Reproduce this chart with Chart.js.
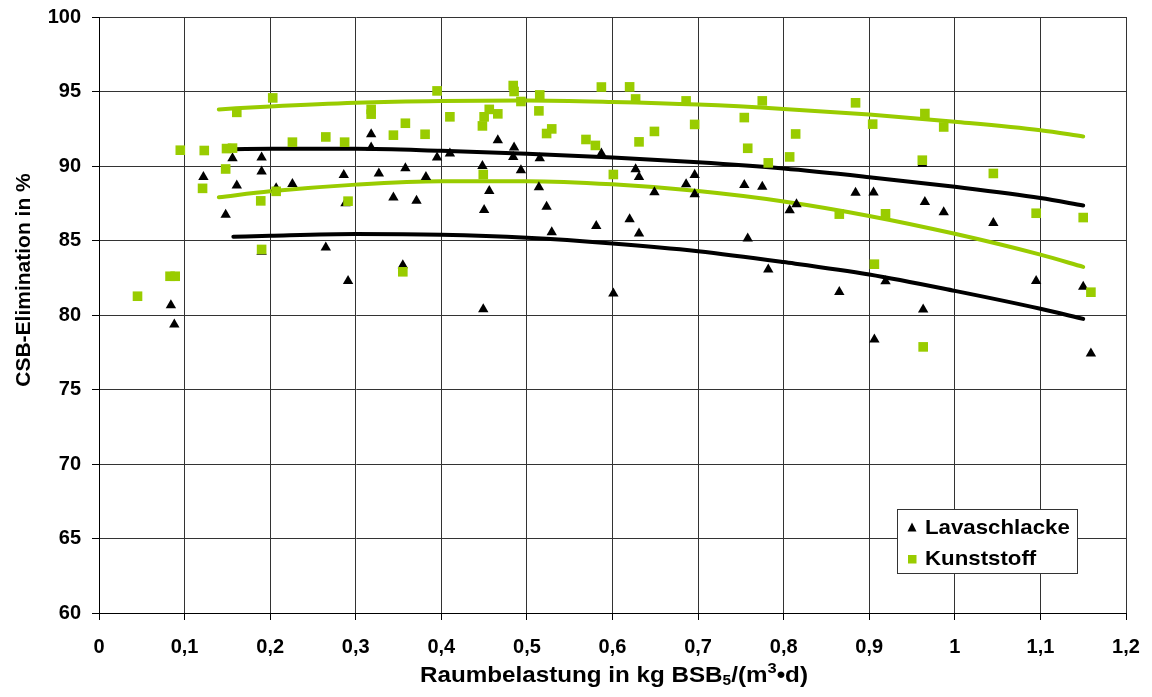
<!DOCTYPE html>
<html>
<head>
<meta charset="utf-8">
<script src="https://cdn.jsdelivr.net/npm/chart.js@4.4.1/dist/chart.umd.min.js"></script>
<style>
  body { margin: 0; background: #fff; }
  #wrap { width: 1152px; height: 697px; }
</style>
</head>
<body>
<div id="wrap"><canvas id="csbChart" width="1152" height="697"></canvas></div>
<script>
// Messwerte Lavaschlacke
const lavaX = [0.084, 0.088, 0.122, 0.148, 0.156, 0.161, 0.190, 0.190, 0.190, 0.207,
    0.226, 0.265, 0.286, 0.288, 0.291, 0.318, 0.318, 0.327, 0.344, 0.355,
    0.358, 0.371, 0.382, 0.395, 0.410, 0.448, 0.449, 0.450, 0.456, 0.466,
    0.484, 0.485, 0.493, 0.514, 0.515, 0.523, 0.529, 0.581, 0.587, 0.601,
    0.620, 0.627, 0.631, 0.631, 0.649, 0.686, 0.696, 0.696, 0.754, 0.758,
    0.775, 0.782, 0.807, 0.815, 0.865, 0.884, 0.905, 0.906, 0.919, 0.962,
    0.963, 0.965, 0.987, 1.045, 1.095, 1.150, 1.159];
const lavaY = [80.66, 79.36, 89.27, 86.72, 90.52, 88.69, 90.57, 89.63, 84.25, 88.5,
    88.8, 84.53, 89.4, 87.5, 82.29, 92.13, 91.24, 89.5, 87.89, 83.34,
    89.85, 87.66, 89.27, 90.57, 90.84, 90.0, 80.39, 87.05, 88.33, 91.73,
    90.61, 91.24, 89.72, 88.58, 90.52, 87.26, 85.56, 85.98, 90.84, 81.44,
    86.43, 89.79, 89.27, 85.47, 88.24, 88.78, 89.4, 88.1, 88.73, 85.13,
    88.6, 83.05, 87.03, 87.44, 81.55, 88.2, 88.22, 78.36, 82.27, 90.15,
    80.37, 87.59, 86.9, 86.18, 82.29, 81.89, 77.42];

// Messwerte Kunststoff
const kunstX = [0.045, 0.083, 0.089, 0.095, 0.121, 0.123, 0.148, 0.149, 0.156, 0.161,
    0.189, 0.190, 0.203, 0.207, 0.226, 0.265, 0.287, 0.291, 0.318, 0.318,
    0.344, 0.355, 0.358, 0.381, 0.395, 0.410, 0.448, 0.449, 0.450, 0.456,
    0.466, 0.484, 0.485, 0.493, 0.514, 0.515, 0.523, 0.529, 0.569, 0.580,
    0.587, 0.601, 0.620, 0.627, 0.631, 0.649, 0.686, 0.696, 0.754, 0.758,
    0.775, 0.782, 0.807, 0.814, 0.865, 0.884, 0.904, 0.906, 0.919, 0.962,
    0.963, 0.965, 0.987, 1.045, 1.095, 1.150, 1.159];
const kunstY = [81.26, 82.6, 82.6, 91.06, 88.5, 91.04, 89.8, 91.17, 91.2, 93.6,
    87.66, 84.4, 94.57, 88.3, 91.6, 91.95, 91.6, 87.64, 93.8, 93.48,
    92.07, 82.9, 92.87, 92.13, 95.04, 93.3, 92.69, 89.43, 93.3, 93.8,
    93.5, 95.4, 95.0, 94.33, 93.7, 94.77, 92.18, 92.49, 91.78, 91.38,
    95.3, 89.43, 95.31, 94.5, 91.62, 92.32, 94.37, 92.79, 93.25, 91.19,
    94.37, 90.21, 90.61, 92.15, 86.77, 94.24, 92.81, 83.41, 86.79, 90.39,
    77.86, 93.52, 92.62, 89.5, 86.83, 86.54, 81.53];

// Ausgleichskurven
const kurveGruenX = [0.14, 0.2, 0.3, 0.4, 0.5, 0.6, 0.7, 0.8, 0.9, 1.0, 1.1, 1.15];
const kurveSchwarzX = [0.157, 0.2, 0.3, 0.4, 0.5, 0.6, 0.7, 0.8, 0.9, 1.0, 1.1, 1.15];
const gruenOben = [93.8, 94.0, 94.25, 94.37, 94.4, 94.3, 94.12, 93.83, 93.45, 92.97, 92.4, 91.98];
const gruenUnten = [87.9, 88.3, 88.75, 88.98, 88.98, 88.77, 88.32, 87.62, 86.65, 85.45, 84.05, 83.23];
const schwarzOben = [91.13, 91.15, 91.15, 91.02, 90.83, 90.57, 90.25, 89.83, 89.25, 88.6, 87.85, 87.35];
const schwarzUnten = [85.25, 85.32, 85.43, 85.38, 85.18, 84.8, 84.28, 83.55, 82.72, 81.62, 80.42, 79.74];

const xTickLabels = ['0', '0,1', '0,2', '0,3', '0,4', '0,5', '0,6', '0,7', '0,8', '0,9', '1', '1,1', '1,2'];
const yTickLabels = ['60', '65', '70', '75', '80', '85', '90', '95', '100'];

const GRUEN = '#99cc00';
const FONT = '"Liberation Sans", Arial, sans-serif';

function toPoints(xs, ys) {
    return xs.map((x, i) => ({ x: x, y: ys[i] }));
}

function kurve(xs, ys, color) {
    return {
        data: toPoints(xs, ys),
        showLine: true,
        borderColor: color,
        borderWidth: 4,
        borderCapStyle: 'round',
        pointRadius: 0,
        tension: 0.4,
        cubicInterpolationMode: 'monotone',
        order: 3
    };
}

// Achsentitel mit Index/Exponent und Legende im Diagramm
const extraText = {
    id: 'extraText',
    afterDraw(chart) {
        const c = chart.ctx;
        c.save();
        c.fillStyle = '#000';

        // y-Achse
        c.save();
        c.translate(30, 280);
        c.rotate(-Math.PI / 2);
        c.font = 'bold 21px ' + FONT;
        c.textAlign = 'center';
        c.textBaseline = 'alphabetic';
        c.fillText('CSB-Elimination in %', 0, 0);
        c.restore();

        // x-Achse
        const parts = [
            { t: 'Raumbelastung in kg BSB', size: 22, dy: 0 },
            { t: '5', size: 14, dy: 3 },
            { t: '/(m', size: 22, dy: 0 },
            { t: '3', size: 15, dy: -9 },
            { t: '\u2022d)', size: 22, dy: 0 }
        ];
        const sx = 1.1;
        let total = 0;
        parts.forEach(p => {
            c.font = 'bold ' + p.size + 'px ' + FONT;
            p.w = c.measureText(p.t).width;
            total += p.w;
        });
        c.save();
        c.translate(614 - total * sx / 2, 682);
        c.scale(sx, 1);
        c.textAlign = 'left';
        c.textBaseline = 'alphabetic';
        let px = 0;
        parts.forEach(p => {
            c.font = 'bold ' + p.size + 'px ' + FONT;
            c.fillText(p.t, px, p.dy);
            px += p.w;
        });
        c.restore();

        // Legende
        c.fillStyle = '#fff';
        c.fillRect(897, 509, 180, 64);
        c.strokeStyle = '#333';
        c.lineWidth = 1;
        c.strokeRect(897.5, 509.5, 180, 64);

        c.fillStyle = '#000';
        c.beginPath();
        c.moveTo(912, 522.5);
        c.lineTo(916.5, 531.5);
        c.lineTo(907.5, 531.5);
        c.closePath();
        c.fill();
        c.fillStyle = GRUEN;
        c.fillRect(908, 555, 8.5, 8.5);

        const labels = chart.data.datasets.slice(0, 2).map(d => d.label);
        c.fillStyle = '#000';
        c.font = 'bold 21px ' + FONT;
        c.textAlign = 'left';
        c.textBaseline = 'alphabetic';
        [534, 565].forEach((y, i) => {
            c.save();
            c.translate(925, y);
            c.scale(1.06, 1);
            c.fillText(labels[i], 0, 0);
            c.restore();
        });
        c.restore();
    }
};

const ctx = document.getElementById('csbChart').getContext('2d');
new Chart(ctx, {
    type: 'scatter',
    data: {
        datasets: [
            {
                label: 'Lavaschlacke',
                data: toPoints(lavaX, lavaY),
                pointStyle: 'triangle',
                pointRadius: 6,
                pointBackgroundColor: '#000',
                pointBorderWidth: 0,
                order: 2
            },
            {
                label: 'Kunststoff',
                data: toPoints(kunstX, kunstY),
                pointStyle: 'rect',
                pointRadius: 6.8,
                pointBackgroundColor: GRUEN,
                pointBorderWidth: 0,
                order: 1
            },
            kurve(kurveGruenX, gruenOben, GRUEN),
            kurve(kurveSchwarzX, schwarzOben, '#000'),
            kurve(kurveGruenX, gruenUnten, GRUEN),
            kurve(kurveSchwarzX, schwarzUnten, '#000')
        ]
    },
    options: {
        responsive: false,
        animation: false,
        layout: {
            autoPadding: false,
            padding: { left: 0, top: 17, right: 26, bottom: 0 }
        },
        plugins: {
            legend: { display: false },
            tooltip: { enabled: false }
        },
        scales: {
            x: {
                type: 'linear',
                min: 0,
                max: 1.2,
                afterFit: scale => {
                    scale.height = 84;
                    scale.paddingLeft = 0;
                    scale.paddingRight = 0;
                },
                ticks: {
                    stepSize: 0.1,
                    padding: 15,
                    color: '#000',
                    font: { family: FONT, size: 20, weight: 'bold' },
                    callback: (value, index) => xTickLabels[index]
                },
                grid: { color: '#333', lineWidth: 1, tickLength: 7, tickColor: '#000' },
                border: { color: '#000', width: 1 }
            },
            y: {
                min: 60,
                max: 100,
                afterFit: scale => {
                    scale.width = 99;
                    scale.paddingTop = 0;
                    scale.paddingBottom = 0;
                },
                ticks: {
                    stepSize: 5,
                    padding: 11,
                    color: '#000',
                    font: { family: FONT, size: 20, weight: 'bold' },
                    callback: (value, index) => yTickLabels[index]
                },
                grid: { color: '#333', lineWidth: 1, tickLength: 7, tickColor: '#000' },
                border: { color: '#000', width: 1 }
            }
        }
    },
    plugins: [extraText]
});
</script>
</body>
</html>
